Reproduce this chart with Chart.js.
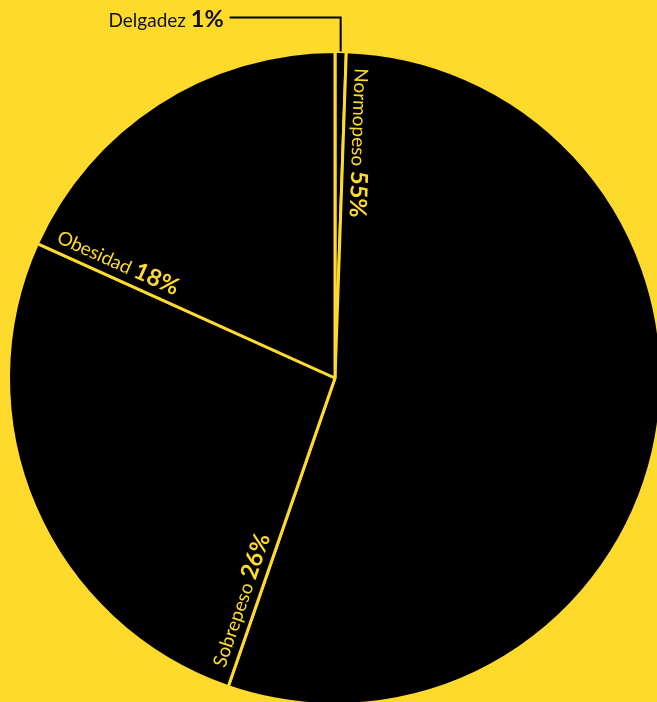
<!DOCTYPE html>
<html>
<head>
<meta charset="utf-8">
<script src="https://cdn.jsdelivr.net/npm/chart.js@4/dist/chart.umd.min.js"></script>
<style>
  html, body { margin: 0; padding: 0; background: #FDDA2B; overflow: hidden; }
  #chart { display: block; }
</style>
</head>
<body>
<canvas id="chart" width="663" height="706"></canvas>
<script>
// Data (percent of people by weight category)
const categories = ['Delgadez', 'Normopeso', 'Sobrepeso', 'Obesidad'];
const shares = [0.55, 54.75, 26.45, 18.25];
const shareLabels = ['1%', '55%', '26%', '18%'];

const yellow = '#FDDA2B';
const black = '#000000';

// Draw "Name" regular + "NN%" bold starting at x=0 on the current baseline
function drawMixed(ctx, name, pct, align) {
    ctx.font = '19px Lato';
    const w1 = ctx.measureText(name + ' ').width;
    ctx.font = 'bold 23.5px Lato';
    const w2 = ctx.measureText(pct).width;
    let x = align === 'right' ? -(w1 + w2) : 0;
    ctx.font = '19px Lato';
    ctx.fillText(name + ' ', x, 0);
    ctx.font = 'bold 23.5px Lato';
    ctx.fillText(pct, x + w1, 0);
}

const sliceLabels = {
    id: 'sliceLabels',
    afterDatasetsDraw(chart) {
        const ctx = chart.ctx;
        const arcs = chart.getDatasetMeta(0).data;
        ctx.save();
        ctx.textAlign = 'left';
        ctx.textBaseline = 'alphabetic';
        arcs.forEach((arc, i) => {
            const r = arc.outerRadius;
            if (i === 0) {
                // small slice: label outside with an elbow connector
                const mid = (arc.startAngle + arc.endAngle) / 2;
                const px = arc.x + Math.cos(mid) * r;
                const py = arc.y + Math.sin(mid) * r;
                const elbowY = arc.y - r - 34;
                ctx.strokeStyle = black;
                ctx.lineWidth = 2;
                ctx.beginPath();
                ctx.moveTo(px, py);
                ctx.lineTo(px, elbowY);
                ctx.lineTo(px - 111, elbowY);
                ctx.stroke();
                ctx.save();
                ctx.fillStyle = '#111111';
                ctx.translate(px - 117, elbowY + 9);
                drawMixed(ctx, categories[i], shareLabels[i], 'right');
                ctx.restore();
                return;
            }
            // text runs inward along the slice's start edge
            const a = arc.startAngle;
            const startR = r - 16;
            ctx.save();
            ctx.fillStyle = yellow;
            ctx.translate(arc.x + Math.cos(a) * startR, arc.y + Math.sin(a) * startR);
            ctx.rotate(a + Math.PI);
            ctx.translate(0, -9);
            drawMixed(ctx, categories[i], shareLabels[i], 'left');
            ctx.restore();
        });
        ctx.restore();
    }
};

new Chart(document.getElementById('chart'), {
    type: 'pie',
    data: {
        labels: categories,
        datasets: [{
            data: shares,
            backgroundColor: black,
            borderColor: yellow,
            borderWidth: 3
        }]
    },
    options: {
        responsive: false,
        animation: false,
        layout: { padding: { top: 50, left: 7, right: 0, bottom: 0 } },
        plugins: {
            legend: { display: false },
            tooltip: { enabled: false }
        }
    },
    plugins: [sliceLabels]
});
</script>
</body>
</html>
